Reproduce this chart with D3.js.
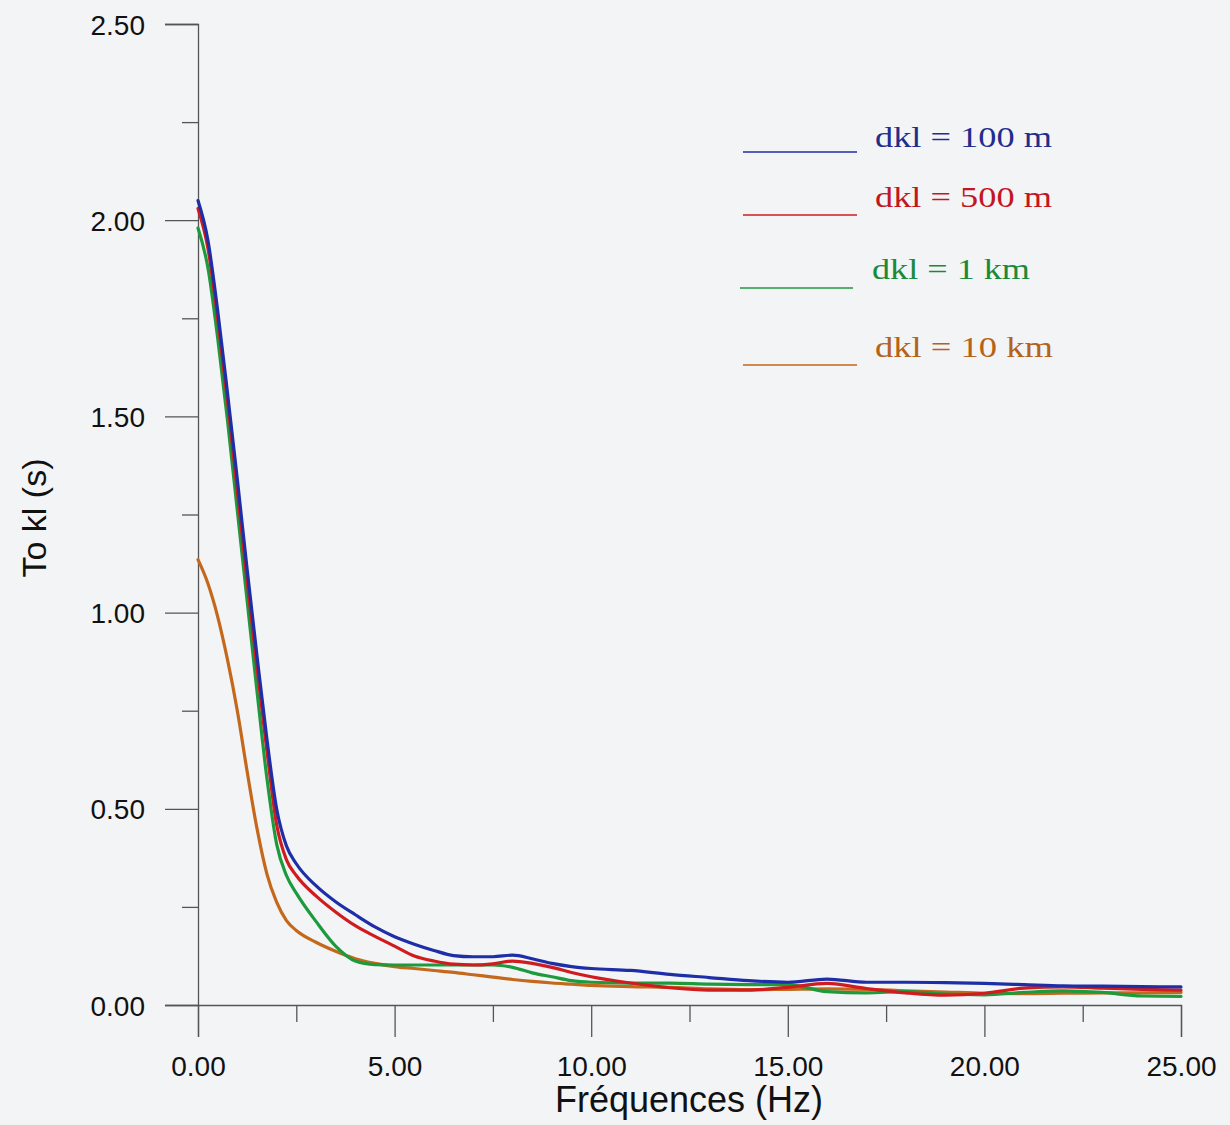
<!DOCTYPE html>
<html>
<head>
<meta charset="utf-8">
<script src="https://cdn.jsdelivr.net/npm/d3@7"></script>
<style>
  html, body { margin: 0; padding: 0; background: #f3f4f6; }
  svg { display: block; }
</style>
</head>
<body>
<svg id="chart" width="1230" height="1125"></svg>
<script>
// ---------- data ----------
const frequencies = [0, 0.25, 0.5, 0.75, 1, 1.25, 1.5, 1.75, 2, 2.25, 2.5, 3, 3.5, 4, 4.5, 5, 5.5, 6, 6.5, 7, 7.5, 8, 8.5, 9, 9.5, 10, 11, 12, 13, 14, 15, 16, 17, 18, 19, 20, 21, 22, 23, 24, 25];

const dkl100m = [2.05, 1.95, 1.77, 1.56, 1.34, 1.11, 0.89, 0.68, 0.50, 0.405, 0.36, 0.304, 0.263, 0.23, 0.199, 0.174, 0.155, 0.139, 0.126, 0.123, 0.123, 0.127, 0.118, 0.106, 0.098, 0.093, 0.088, 0.078, 0.070, 0.062, 0.058, 0.066, 0.058, 0.058, 0.057, 0.055, 0.052, 0.049, 0.048, 0.047, 0.046];
const dkl500m = [2.03, 1.93, 1.75, 1.54, 1.31, 1.08, 0.86, 0.65, 0.46, 0.37, 0.33, 0.278, 0.237, 0.202, 0.175, 0.150, 0.125, 0.112, 0.104, 0.102, 0.105, 0.112, 0.106, 0.096, 0.083, 0.072, 0.056, 0.044, 0.038, 0.038, 0.045, 0.055, 0.042, 0.031, 0.025, 0.030, 0.043, 0.046, 0.043, 0.040, 0.038];
const dkl1km  = [1.98, 1.88, 1.70, 1.49, 1.26, 1.03, 0.80, 0.58, 0.41, 0.33, 0.285, 0.213, 0.15, 0.112, 0.103, 0.102, 0.102, 0.102, 0.102, 0.102, 0.102, 0.096, 0.082, 0.072, 0.062, 0.058, 0.056, 0.056, 0.053, 0.052, 0.052, 0.034, 0.031, 0.034, 0.028, 0.026, 0.032, 0.036, 0.032, 0.023, 0.022];
const dkl10km = [1.135, 1.075, 0.99, 0.88, 0.75, 0.595, 0.45, 0.335, 0.262, 0.215, 0.19, 0.16, 0.137, 0.118, 0.106, 0.098, 0.093, 0.088, 0.083, 0.077, 0.071, 0.065, 0.060, 0.056, 0.053, 0.050, 0.047, 0.045, 0.041, 0.039, 0.040, 0.041, 0.040, 0.036, 0.033, 0.030, 0.029, 0.030, 0.031, 0.031, 0.032];

const seriesNames = ["dkl = 100 m", "dkl = 500 m", "dkl = 1 km", "dkl = 10 km"];
const seriesValues = [dkl100m, dkl500m, dkl1km, dkl10km];

const xMajorTicks = [0, 5, 10, 15, 20, 25];
const xMinorTicks = [2.5, 7.5, 12.5, 17.5, 22.5];
const yMajorTicks = [0, 0.5, 1.0, 1.5, 2.0, 2.5];
const yMinorTicks = [0.25, 0.75, 1.25, 1.75, 2.25];

const xTitle = "Fréquences (Hz)";
const yTitle = "To kl (s)";

// ---------- styling ----------
const lineColors = ["#1e2ea6", "#d01c1f", "#1c9a3c", "#c4681c"];
const textColors = ["#1f2d8c", "#c4161e", "#1a8a3a", "#b5621a"];

const svg = d3.select("#chart");

const x = d3.scaleLinear().domain([0, 25]).range([198, 1181]);
const y = d3.scaleLinear().domain([0, 2.5]).range([1005, 24]);

const axisColor = "#555";
const sans = "'Liberation Sans', Arial, sans-serif";

// ---------- axes ----------
const gxMinor = svg.append("g").attr("transform", `translate(0,${y(0)})`)
  .call(d3.axisBottom(x).tickValues(xMinorTicks).tickSize(17).tickFormat(""));
const gx = svg.append("g").attr("transform", `translate(0,${y(0)})`)
  .call(d3.axisBottom(x).tickValues(xMajorTicks).tickSize(32).tickPadding(19)
    .tickFormat(d3.format(".2f")));

const gyMinor = svg.append("g").attr("transform", `translate(${x(0)},0)`)
  .call(d3.axisLeft(y).tickValues(yMinorTicks).tickSize(16).tickFormat(""));
const gy = svg.append("g").attr("transform", `translate(${x(0)},0)`)
  .call(d3.axisLeft(y).tickValues(yMajorTicks).tickSize(33).tickPadding(20)
    .tickFormat(d3.format(".2f")));

[gxMinor, gx, gyMinor, gy].forEach(g => {
  g.selectAll("path.domain").attr("stroke", axisColor).attr("stroke-width", 1.3);
  g.selectAll(".tick line").attr("stroke", axisColor).attr("stroke-width", 1.3);
});
gxMinor.select("path.domain").remove();
gyMinor.select("path.domain").remove();

gx.selectAll(".tick text").attr("font-family", sans).attr("font-size", 28).attr("fill", "#111");
gy.selectAll(".tick text").attr("font-family", sans).attr("font-size", 28).attr("fill", "#111")
  .attr("dy", "0.36em");

// axis titles
svg.append("text")
  .attr("x", 689).attr("y", 1112)
  .attr("text-anchor", "middle")
  .attr("font-family", sans).attr("font-size", 36).attr("fill", "#111")
  .text(xTitle);

svg.append("text")
  .attr("transform", `translate(46,518) rotate(-90)`)
  .attr("text-anchor", "middle")
  .attr("font-family", sans).attr("font-size", 34).attr("fill", "#111")
  .text(yTitle);

// ---------- curves ----------
const line = d3.line()
  .x((d, i) => x(frequencies[i]))
  .y(d => y(d))
  .curve(d3.curveMonotoneX);

// draw in order so blue is on top like the original
const drawOrder = [3, 2, 1, 0];
drawOrder.forEach(k => {
  svg.append("path")
    .datum(seriesValues[k])
    .attr("fill", "none")
    .attr("stroke", lineColors[k])
    .attr("stroke-width", 3.2)
    .attr("stroke-linejoin", "round")
    .attr("stroke-linecap", "round")
    .attr("d", line);
});

// ---------- legend ----------
const legendLineY = [152, 215, 288, 365];
const legendTextY = [147, 207, 279, 357];
const legendTextX = [875, 875, 872, 875];
const legendTextW = [177, 177, 158, 178];
const legendLineX0 = [743, 743, 740, 743];
const legendLineX1 = [857, 857, 853, 857];

const legend = svg.append("g");
seriesNames.forEach((name, i) => {
  legend.append("line")
    .attr("x1", legendLineX0[i]).attr("x2", legendLineX1[i])
    .attr("y1", legendLineY[i]).attr("y2", legendLineY[i])
    .attr("stroke", lineColors[i]).attr("stroke-width", 1.6);
  legend.append("text")
    .attr("x", legendTextX[i]).attr("y", legendTextY[i])
    .attr("font-family", "'Liberation Serif', 'Times New Roman', serif")
    .attr("font-size", 29)
    .attr("textLength", legendTextW[i])
    .attr("lengthAdjust", "spacingAndGlyphs")
    .attr("fill", textColors[i])
    .text(name);
});
</script>
</body>
</html>
